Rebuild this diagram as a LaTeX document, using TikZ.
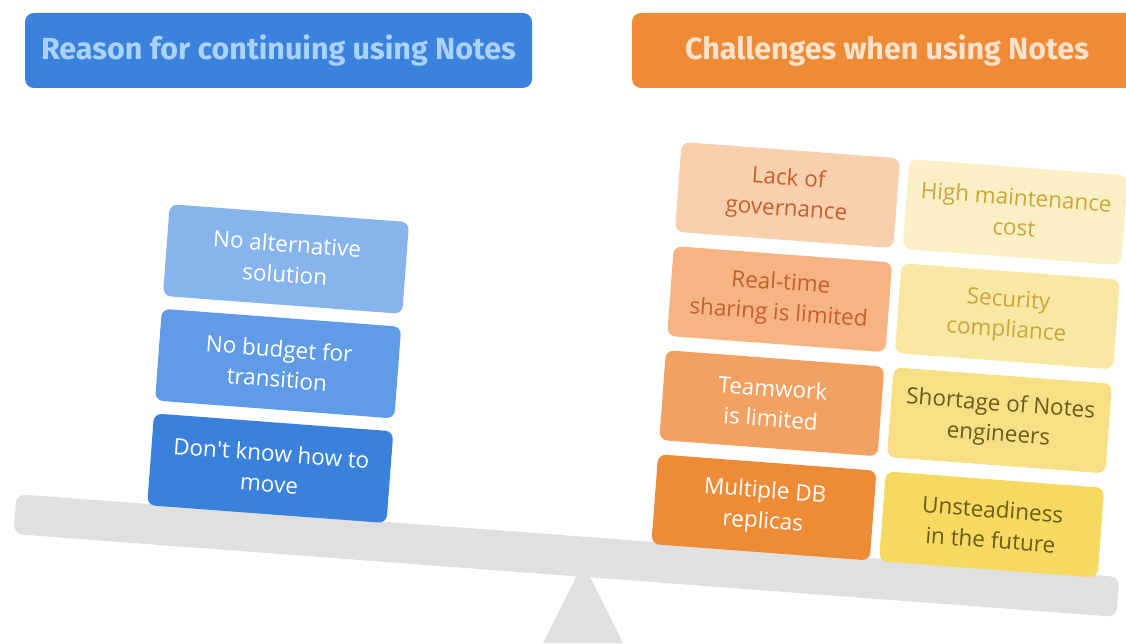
\documentclass[tikz,border=0pt]{standalone}
\usepackage{fontspec}
\setmainfont{Open Sans}
\newfontfamily\headfont{Fira Sans}
\usepackage{tikz}
\usetikzlibrary{positioning}

\definecolor{headblue}{HTML}{3B82DD}
\definecolor{headbluetext}{HTML}{A9D3FA}
\definecolor{headorange}{HTML}{EF8A36}
\definecolor{headorangetext}{HTML}{FDE3CC}
\definecolor{blueA}{HTML}{87B4EC}
\definecolor{blueB}{HTML}{5F9BE6}
\definecolor{blueC}{HTML}{3A81DC}
\definecolor{orangeA}{HTML}{F8D0AE}
\definecolor{orangeB}{HTML}{F5B482}
\definecolor{orangeC}{HTML}{F2A163}
\definecolor{orangeD}{HTML}{EE8B36}
\definecolor{orangetext}{HTML}{C4602E}
\definecolor{yellowA}{HTML}{FBEFC5}
\definecolor{yellowB}{HTML}{F9E7A4}
\definecolor{yellowC}{HTML}{F7DF86}
\definecolor{yellowD}{HTML}{F5D961}
\definecolor{yellowtext}{HTML}{C9A73A}
\definecolor{olivetext}{HTML}{6E5B17}
\definecolor{beamgray}{HTML}{E0E0E0}

\begin{document}
\begin{tikzpicture}[x=1pt,y=1pt,
    head/.style={rounded corners=9pt, minimum height=75pt, inner sep=0pt,
        font=\headfont\bfseries\fontsize{30.5}{36}\selectfont},
    card/.style={rounded corners=8pt, align=center, inner sep=0pt,
        font=\fontsize{22.5}{30.5}\selectfont},
    lcard/.style={card, minimum width=240pt, minimum height=92pt},
    rcard/.style={card, minimum width=219pt, minimum height=90pt}]
    \useasboundingbox (0,0) rectangle (1126,643);
    \clip (0,0) rectangle (1126,643);

    % headers
    \node[head, fill=headblue, text=headbluetext, minimum width=507pt] (reason) at (278.5,592.5) {Reason for continuing using Notes};
    \node[head, fill=headorange, text=headorangetext, minimum width=510pt] (challenge) at (887,592.5) {Challenges when using Notes};

    % seesaw
    \fill[beamgray] (583,80) -- (623,0) -- (543,0) -- cycle;
    \node[fill=beamgray, rounded corners=9pt, minimum width=1106pt, minimum height=40pt, rotate=-4.3] (beam) at (566.5,87.5) {};

    \coordinate (altpos) at (286,384);
    \coordinate (lackpos) at (787.5,448);

    \begin{scope}[rotate=-4.3, transform shape]
        \node[lcard, fill=blueA, text=white] (alt) at (altpos) {No alternative\\solution};
        \node[lcard, fill=blueB, text=white, below=12.5pt of alt] (budget) {No budget for\\transition};
        \node[lcard, fill=blueC, text=white, below=12.5pt of budget] (move) {Don\textquotesingle t know how to\\move};

        \node[rcard, fill=orangeA, text=orangetext] (lack) at (lackpos) {Lack of\\governance};
        \node[rcard, fill=orangeB, text=orangetext, below=14pt of lack] (realtime) {Real-time\\sharing is limited};
        \node[rcard, fill=orangeC, text=white, below=14pt of realtime] (teamwork) {Teamwork\\is limited};
        \node[rcard, fill=orangeD, text=white, below=14pt of teamwork] (replicas) {Multiple DB\\replicas};

        \node[rcard, fill=yellowA, text=yellowtext, right=9pt of lack] (cost) {High maintenance\\cost};
        \node[rcard, fill=yellowB, text=yellowtext, right=9pt of realtime] (security) {Security\\compliance};
        \node[rcard, fill=yellowC, text=olivetext, right=9pt of teamwork] (shortage) {Shortage of Notes\\engineers};
        \node[rcard, fill=yellowD, text=olivetext, right=9pt of replicas] (future) {Unsteadiness\\in the future};
    \end{scope}
\end{tikzpicture}
\end{document}
